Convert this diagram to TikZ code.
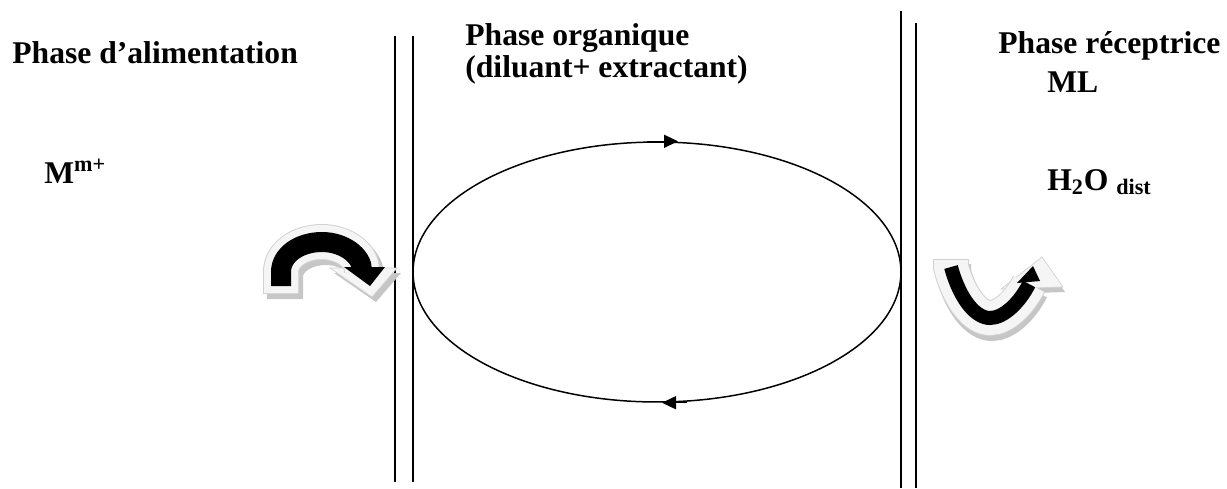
\documentclass[tikz,border=0pt]{standalone}
\usepackage{fontspec}
\setmainfont{Liberation Serif}
\usetikzlibrary{arrows.meta,positioning,shapes.geometric}

\begin{document}
\begin{tikzpicture}[x=0.02cm,y=-0.02cm,
  lbl/.style={font=\fontsize{18}{18}\selectfont\bfseries,inner sep=0pt,anchor=base west},
  wall/.style={line width=0.85pt},
  flow/.style={-{Triangle[length=0.28cm,width=0.26cm]},line width=0.85pt},
  face/.style={fill=gray!8,draw=gray!35,line width=0.4pt}]
  \useasboundingbox (0,0) rectangle (1227,488);
  % membranes
  \draw[wall] (395,36) -- (395,482);
  \draw[wall] (413,36) -- (413,482);
  \draw[wall] (901,11) -- (901,488);
  \draw[wall] (916,23) -- (916,488);
  % carrier loop in the organic phase
  \node[draw,ellipse,wall,minimum width=9.76cm,minimum height=5.2cm,inner sep=0pt] (loop) at (657,272) {};
  \draw[flow] ([xshift=-0.2cm]loop.north) -- ([xshift=0.42cm]loop.north);
  \draw[flow] ([xshift=0.6cm]loop.south) -- ([xshift=0.1cm]loop.south);
  % labels
  \node[lbl] (feed) at (12,63) {Phase d’alimentation};
  \node[lbl] (ion) at (44,183) {M\textsuperscript{m+}};
  \node[lbl] (org) at (465,45) {Phase organique};
  \node[lbl] (orgmix) at (465,77) {(diluant+ extractant)};
  \node[lbl] (recv) at (998,53) {Phase réceptrice};
  \node[lbl] (cplx) at (1047,92) {ML};
  \node[lbl] (water) at (1047,190) {H\textsubscript{2}O \textsubscript{dist}};
  % feed side bent arrow
  \begin{scope}[shift={(4,5)},gray!45]
    \draw[line width=0.72cm] (281,294) -- (281,272) .. controls (281,255) and (299,242) .. (322,242) .. controls (344,242) and (362,256) .. (362,270);
    \fill (330,268) -- (397,268) -- (372,297) -- cycle;
  \end{scope}
  \path[face] (330,268) -- (397,268) -- (372,297) -- cycle;
  \draw[gray!35,line width=0.72cm] (281,294) -- (281,272) .. controls (281,255) and (299,242) .. (322,242) .. controls (344,242) and (362,256) .. (362,270);
  \draw[gray!8,line width=0.68cm] (281,293) -- (281,272) .. controls (281,255) and (299,242) .. (322,242) .. controls (344,242) and (362,256) .. (362,270);
  \draw[line width=0.4cm] (281,286) -- (281,272) .. controls (281,255) and (299,242) .. (322,242) .. controls (344,242) and (362,256) .. (362,270);
  \fill (344,267) -- (385,267) -- (370,286) -- cycle;
  % strip side bent arrow
  \begin{scope}[shift={(2,5)},gray!45]
    \draw[line width=0.72cm] (951,259) -- (951,267) .. controls (960,300) and (976,318) .. (990,318) .. controls (1004,318) and (1020,302) .. (1029,284);
    \fill (1001,289) -- (1063,287) -- (1042,257) -- cycle;
  \end{scope}
  \path[face] (1001,289) -- (1063,287) -- (1042,257) -- cycle;
  \draw[gray!35,line width=0.72cm] (951,259) -- (951,267) .. controls (960,300) and (976,318) .. (990,318) .. controls (1004,318) and (1020,302) .. (1029,284);
  \draw[gray!8,line width=0.68cm] (951,260) -- (951,267) .. controls (960,300) and (976,318) .. (990,318) .. controls (1004,318) and (1020,302) .. (1029,284);
  \draw[line width=0.28cm] (951,267) .. controls (960,300) and (976,318) .. (990,318) .. controls (1004,318) and (1020,302) .. (1029,284);
  \fill (1017,283) -- (1040,281) -- (1033,266) -- cycle;
\end{tikzpicture}
\end{document}
